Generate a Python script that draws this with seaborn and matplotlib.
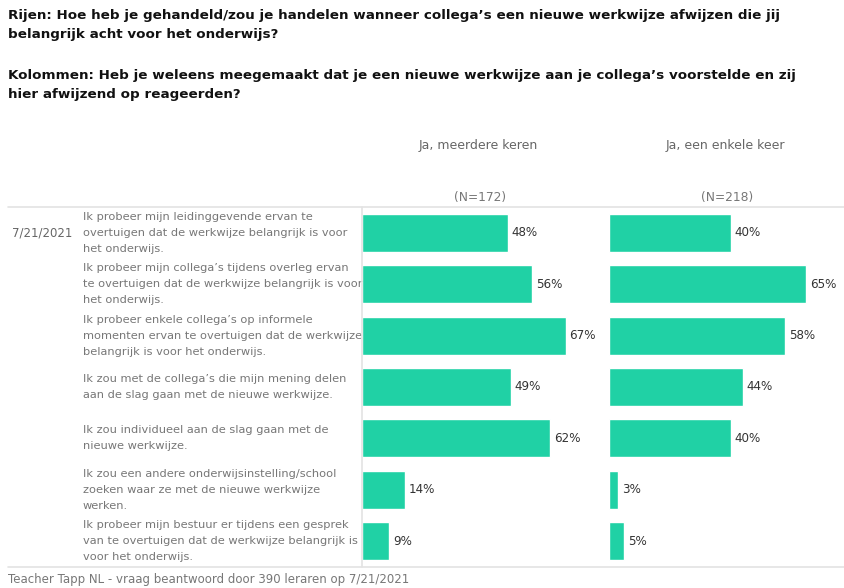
import matplotlib
matplotlib.use("Agg")
import matplotlib.pyplot as plt
import matplotlib.transforms as mtransforms
import seaborn as sns
import pandas as pd
from matplotlib.lines import Line2D

sns.set_theme(style="white")
plt.rcParams['font.family'] = ['DejaVu Sans']

categories = [
    "Ik probeer mijn leidinggevende ervan te\novertuigen dat de werkwijze belangrijk is voor\nhet onderwijs.",
    "Ik probeer mijn collega’s tijdens overleg ervan\nte overtuigen dat de werkwijze belangrijk is voor\nhet onderwijs.",
    "Ik probeer enkele collega’s op informele\nmomenten ervan te overtuigen dat de werkwijze\nbelangrijk is voor het onderwijs.",
    "Ik zou met de collega’s die mijn mening delen\naan de slag gaan met de nieuwe werkwijze.",
    "Ik zou individueel aan de slag gaan met de\nnieuwe werkwijze.",
    "Ik zou een andere onderwijsinstelling/school\nzoeken waar ze met de nieuwe werkwijze\nwerken.",
    "Ik probeer mijn bestuur er tijdens een gesprek\nvan te overtuigen dat de werkwijze belangrijk is\nvoor het onderwijs.",
]
meerdere = [48, 56, 67, 49, 62, 14, 9]
enkele = [40, 65, 58, 44, 40, 3, 5]
columns = ["Ja, meerdere keren", "Ja, een enkele keer"]
ns = ["(N=172)", "(N=218)"]

title1 = "Rijen: Hoe heb je gehandeld/zou je handelen wanneer collega’s een nieuwe werkwijze afwijzen die jij\nbelangrijk acht voor het onderwijs?"
title2 = "Kolommen: Heb je weleens meegemaakt dat je een nieuwe werkwijze aan je collega’s voorstelde en zij\nhier afwijzend op reageerden?"
footer = "Teacher Tapp NL - vraag beantwoord door 390 leraren op 7/21/2021"
date_label = "7/21/2021"

W, H = 845, 588
fig = plt.figure(figsize=(W / 100, H / 100), dpi=100)

color = "#20d1a5"
top_px, bot_px = 207, 567
ax_h = (bot_px - top_px) / H
ax_b = 1 - bot_px / H
xmax = 78
lefts = [362, 609]
axes = []
for i, (vals, col, n) in enumerate(zip([meerdere, enkele], columns, ns)):
    ax = fig.add_axes([lefts[i] / W, ax_b, 237 / W, ax_h])
    df = pd.DataFrame({"cat": categories, "val": vals})
    sns.barplot(data=df, x="val", y="cat", ax=ax, color=color, width=0.74,
                saturation=1, orient="h")
    ax.set_xlim(0, xmax)
    ax.set_ylim(6.5, -0.5)
    ax.set_xlabel("")
    ax.set_ylabel("")
    ax.set_xticks([])
    ax.set_yticks([])
    for s in ax.spines.values():
        s.set_visible(False)
    ax.patch.set_alpha(0)
    for j, v in enumerate(vals):
        ax.text(v + 1.2, j, f"{v}%", va="center", ha="left", fontsize=8.6, color="#333333")
    cx = (lefts[i] + 237 / 2) / W
    fig.text(cx - 2 / W, 1 - 146 / H, col, ha="center", va="center", fontsize=9, color="#666666")
    fig.text(cx, 1 - 198 / H, n, ha="center", va="center", fontsize=8.8, color="#777777")
    axes.append(ax)

ax1 = axes[0]
tr = mtransforms.blended_transform_factory(fig.transFigure, ax1.transData)
for j, c in enumerate(categories):
    ax1.text(83 / W, j, c, transform=tr, ha="left", va="center", fontsize=8.2,
             color="#777777", linespacing=1.75)
ax1.text(12 / W, 0, date_label, transform=tr, ha="left", va="center",
         fontsize=8.5, color="#666666")

fig.text(8 / W, 1 - 25 / H, title1, ha="left", va="center", fontsize=9.7,
         fontweight="bold", color="#111111", linespacing=1.6)
fig.text(8 / W, 1 - 85 / H, title2, ha="left", va="center", fontsize=9.7,
         fontweight="bold", color="#111111", linespacing=1.6)
fig.text(8 / W, 1 - 580 / H, footer, ha="left", va="center", fontsize=8.5, color="#777777")

lc = "#e3e3e3"
fig.add_artist(Line2D([8 / W, 1], [1 - top_px / H] * 2, color=lc, lw=1.2))
fig.add_artist(Line2D([8 / W, 1], [1 - bot_px / H] * 2, color=lc, lw=1.2))
fig.add_artist(Line2D([362 / W] * 2, [1 - top_px / H, 1 - bot_px / H], color=lc, lw=1.2))

fig.savefig("out.png", dpi=100, facecolor="white")
